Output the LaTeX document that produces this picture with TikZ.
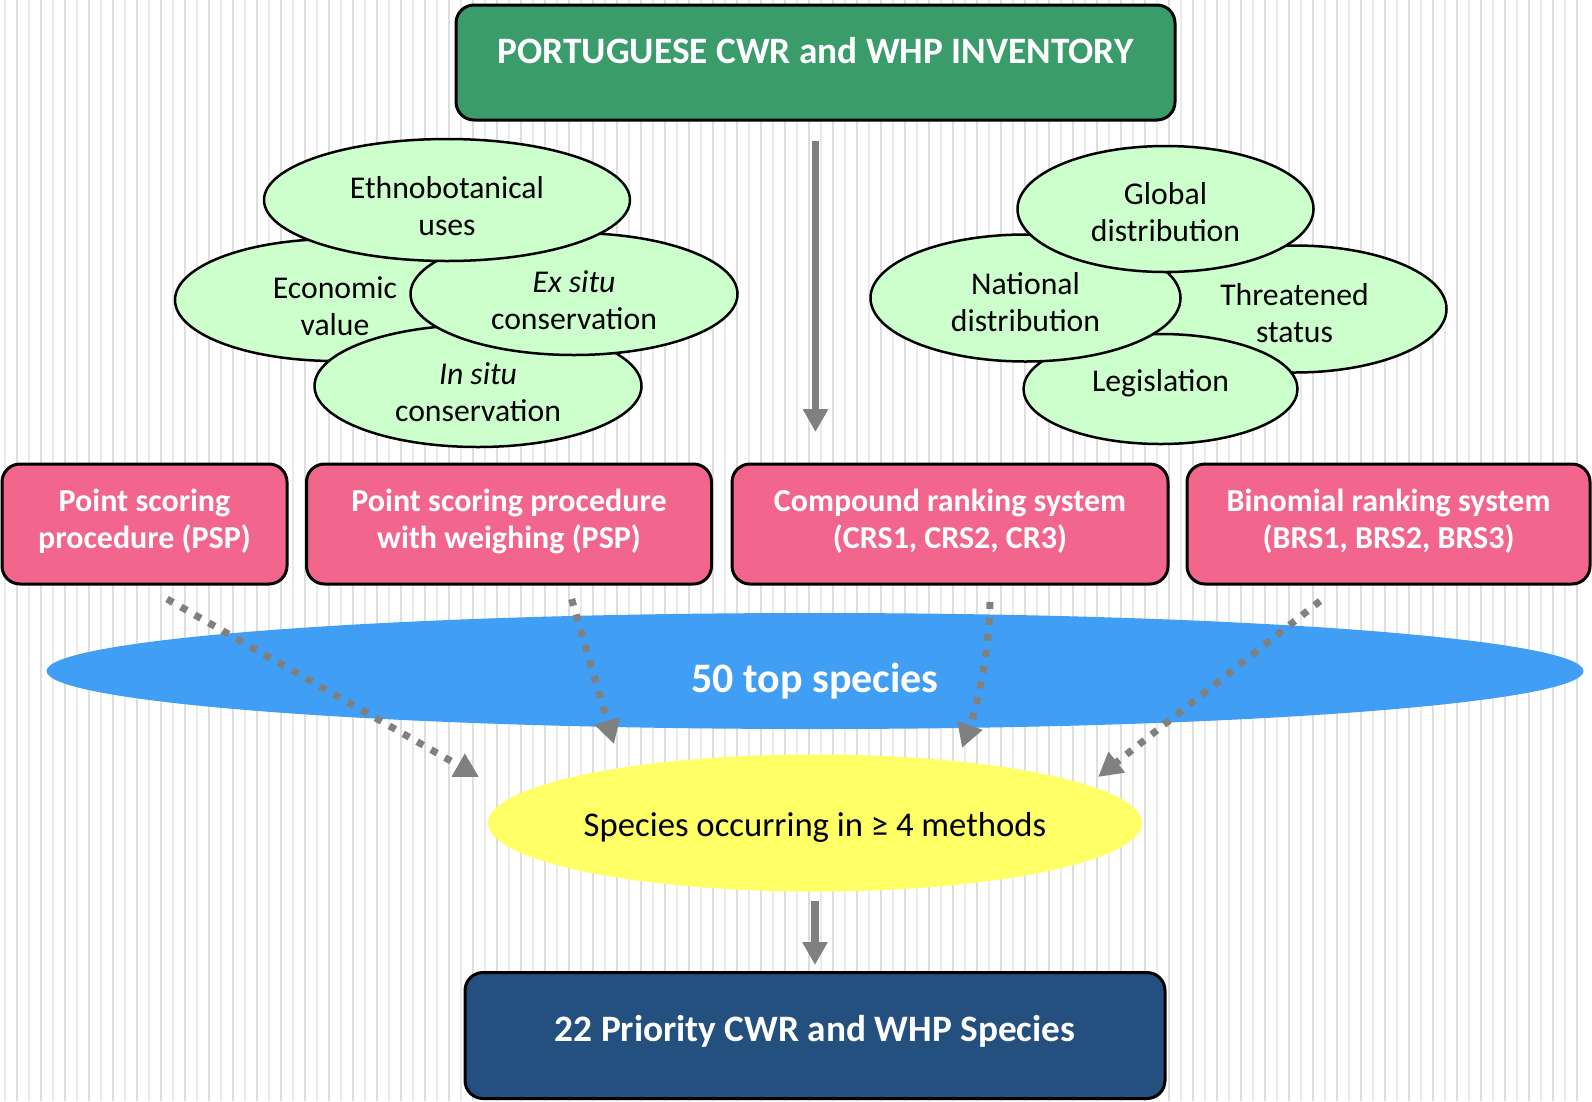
\documentclass[tikz,border=0pt]{standalone}
\usepackage{fontspec}
\setmainfont{Carlito}
\usetikzlibrary{shapes.geometric,arrows.meta,calc}
\definecolor{topgreen}{RGB}{58,155,107}
\definecolor{pinkbox}{RGB}{242,102,142}
\definecolor{lightgreen}{RGB}{204,255,204}
\definecolor{bluefill}{RGB}{64,158,245}
\definecolor{yellowfill}{RGB}{255,255,102}
\definecolor{darkblue}{RGB}{36,80,127}
\definecolor{arrowgray}{RGB}{128,128,128}
\definecolor{stripedark}{RGB}{222,222,222}
\definecolor{stripelight}{RGB}{234,234,234}
\begin{document}
\begin{tikzpicture}[x=1pt,y=-1pt,
  box/.style={draw=black,line width=3pt,rounded corners=18pt,inner sep=0pt},
  boxtext/.style={align=center,text=white,inner sep=0pt,font=\fontsize{32}{37}\selectfont\bfseries},
  oval/.style={ellipse,draw=black,line width=2.5pt,fill=lightgreen,inner sep=0pt},
  ovaltext/.style={align=center,inner sep=0pt,font=\fontsize{31.7}{37}\selectfont},
  bigarrow/.style={draw=arrowgray,line width=7.5pt,-{Triangle[length=23pt,width=24pt]}},
  dotarrow/.style={draw=arrowgray,line width=7pt,dash pattern=on 7pt off 9pt,-{Triangle[length=24pt,width=25pt]}}]
\useasboundingbox (0,0) rectangle (1592,1101);
\fill[white] (0,0) rectangle (1592,1101);
\foreach \i in {0,...,65} {
  \draw[stripelight,line width=1.2pt] (\i*24+5,0) -- (\i*24+5,1101);
  \draw[stripedark,line width=2pt] (\i*24+17,0) -- (\i*24+17,1101);
}
% top box
\node[box,fill=topgreen,minimum width=719,minimum height=115] (top) at (815.5,62.5) {};
\node[boxtext,font=\fontsize{37.3}{42}\selectfont\bfseries] (topT) at ($(top.center)+(0,-12)$) {PORTUGUESE CWR and WHP INVENTORY};
% left ellipses
\node[oval,minimum width=320,minimum height=122] (econ) at (335,300) {};
\node[ovaltext] (econT) at ($(econ.center)+(0,6.5)$) {Economic\\value};
\node[oval,minimum width=327,minimum height=122] (insitu) at (478,386) {};
\node[ovaltext] (insituT) at ($(insitu.center)+(0,6)$) {\textit{In situ}\\conservation};
\node[oval,minimum width=327,minimum height=122] (exsitu) at (574,294) {};
\node[ovaltext] (exsituT) at ($(exsitu.center)+(0,6)$) {\textit{Ex situ}\\conservation};
\node[oval,minimum width=366,minimum height=122] (ethno) at (447,200) {};
\node[ovaltext] (ethnoT) at ($(ethno.center)+(0,6)$) {Ethnobotanical\\uses};
% right ellipses
\node[oval,minimum width=304,minimum height=127] (threat) at (1294.5,309) {};
\node[ovaltext] (threatT) at ($(threat.center)+(0,4.5)$) {Threatened\\status};
\node[oval,minimum width=274,minimum height=110] (legis) at (1160.5,389) {};
\node[ovaltext] (legisT) at ($(legis.center)+(0,-6)$) {Legislation};
\node[oval,minimum width=310,minimum height=127] (national) at (1025.5,298) {};
\node[ovaltext] (nationalT) at ($(national.center)+(0,4)$) {National\\distribution};
\node[oval,minimum width=296,minimum height=126] (global) at (1165.5,209) {};
\node[ovaltext] (globalT) at ($(global.center)+(0,3.5)$) {Global\\distribution};
% pink boxes
\node[box,fill=pinkbox,minimum width=285,minimum height=120] (psp) at (144.5,524) {};
\node[boxtext] (pspT) at ($(psp.center)+(0,-3)$) {Point scoring\\procedure (PSP)};
\node[box,fill=pinkbox,minimum width=405,minimum height=120] (pspw) at (509,524) {};
\node[boxtext] (pspwT) at ($(pspw.center)+(0,-3)$) {Point scoring procedure\\with weighing (PSP)};
\node[box,fill=pinkbox,minimum width=436,minimum height=120] (crs) at (950,524) {};
\node[boxtext] (crsT) at ($(crs.center)+(0,-3)$) {Compound ranking system\\(CRS1, CRS2, CR3)};
\node[box,fill=pinkbox,minimum width=403,minimum height=120] (brs) at (1388.5,524) {};
\node[boxtext] (brsT) at ($(brs.center)+(0,-3)$) {Binomial ranking system\\(BRS1, BRS2, BRS3)};
% blue ellipse
\node[ellipse,fill=bluefill,inner sep=0pt,minimum width=1537,minimum height=116] (top50) at (815,671) {};
\node[boxtext,font=\fontsize{42}{48}\selectfont\bfseries] (top50T) at ($(top50.center)+(0,10)$) {50 top species};
% yellow ellipse
\node[ellipse,fill=yellowfill,inner sep=0pt,minimum width=654,minimum height=137] (occur) at (815,823) {};
\node[ovaltext,font=\fontsize{34.7}{40}\selectfont] (occurT) at ($(occur.center)+(0,4)$) {Species occurring in ≥ 4 methods};
% bottom box
\node[box,fill=darkblue,minimum width=700,minimum height=126] (final) at (815,1035.5) {};
\node[boxtext,font=\fontsize{37.3}{42}\selectfont\bfseries] (finalT) at ($(final.center)+(0,-4)$) {22 Priority CWR and WHP Species};
% main arrows
\coordinate (a1) at (top.south |- 0,432);
\draw[bigarrow,shorten <=19pt] (top.south) -- (a1);
\draw[bigarrow,shorten <=9pt,shorten >=6pt] (occur.south) -- (final.north);
% dotted arrows
\coordinate (d1s) at (167,599); \coordinate (d1e) at (479,777);
\coordinate (d2s) at (571.6,599); \coordinate (d2e) at (614,744);
\coordinate (d3s) at (990,602); \coordinate (d3e) at (962,748);
\coordinate (d4s) at (1320,601); \coordinate (d4e) at (1098,777);
\draw[dotarrow] (d1s) -- (d1e);
\draw[dotarrow] (d2s) -- (d2e);
\draw[dotarrow] (d3s) .. controls (989,650) and (979,700) .. (d3e);
\draw[dotarrow] (d4s) -- (d4e);
\end{tikzpicture}
\end{document}
